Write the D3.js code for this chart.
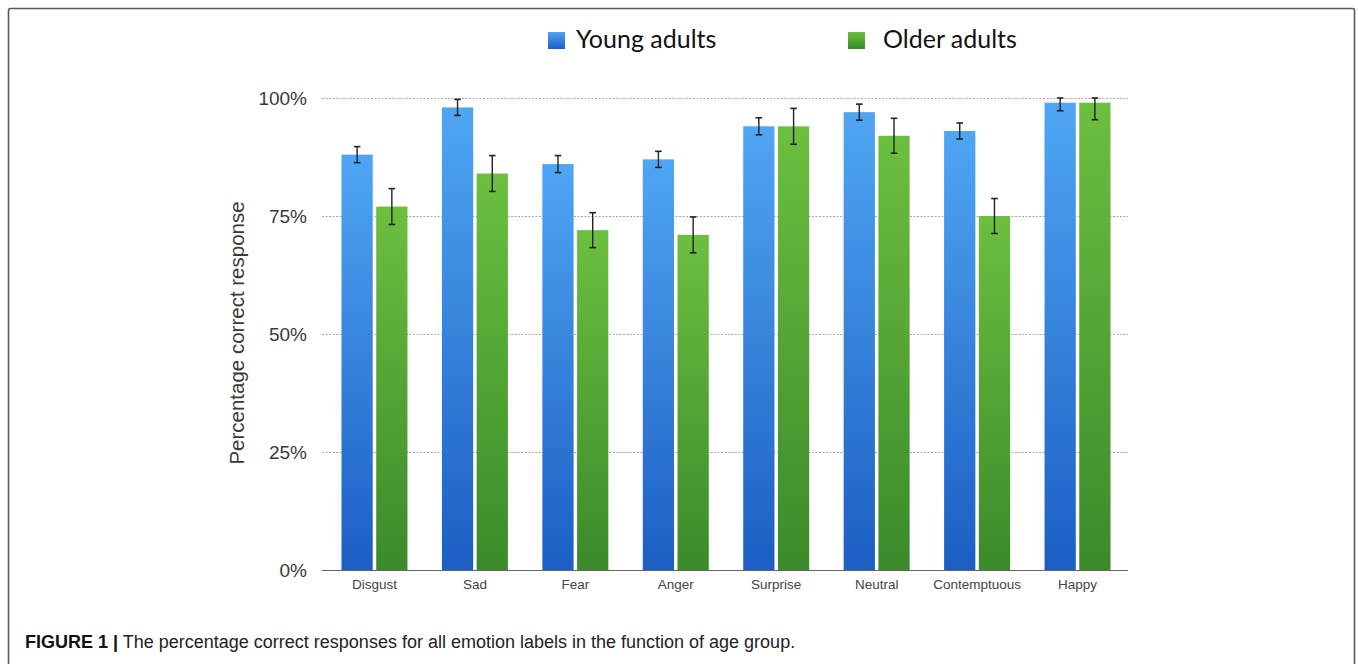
<!DOCTYPE html>
<html>
<head>
<meta charset="utf-8">
<script src="https://cdn.jsdelivr.net/npm/d3@7"></script>
<style>
  html, body { margin: 0; padding: 0; background: #fff; }
  svg { display: block; }
</style>
</head>
<body>
<svg id="chart" width="1358" height="664"></svg>
<script>
const categories = ["Disgust", "Sad", "Fear", "Anger", "Surprise", "Neutral", "Contemptuous", "Happy"];
const seriesNames = ["Young adults", "Older adults"];
const youngValues = [88, 98, 86, 87, 94, 97, 93, 99];
const olderValues = [77, 84, 72, 71, 94, 92, 75, 99];
const youngErrors = [1.7, 1.7, 1.8, 1.7, 1.8, 1.7, 1.7, 1.7];
const olderErrors = [3.8, 3.8, 3.7, 3.8, 3.8, 3.7, 3.7, 3.6];
const yTicks = [0, 25, 50, 75, 100];
const yTitle = "Percentage correct response";
const captionBold = "FIGURE 1 |";
const captionText = " The percentage correct responses for all emotion labels in the function of age group.";

const svg = d3.select("#chart");

// frame
svg.append("rect")
  .attr("x", 8.5).attr("y", 8.5)
  .attr("width", 1346).attr("height", 720)
  .attr("rx", 2)
  .attr("fill", "none").attr("stroke", "#5a5a5a").attr("stroke-width", 1.6);

// gradients
const defs = svg.append("defs");
function grad(id, top, bottom) {
  const g = defs.append("linearGradient").attr("id", id)
    .attr("x1", 0).attr("y1", 0).attr("x2", 0).attr("y2", 1);
  g.append("stop").attr("offset", "0%").attr("stop-color", top);
  g.append("stop").attr("offset", "100%").attr("stop-color", bottom);
}
grad("gBlue", "#4fa6f3", "#1c5ec3");
grad("gGreen", "#6cbf3f", "#3b8a2b");
const fills = ["url(#gBlue)", "url(#gGreen)"];

const plotLeft = 322, plotRight = 1130, yTop = 98, yBottom = 570;

const x0 = d3.scaleBand().domain(categories).range([plotLeft, plotRight])
  .paddingInner(0.343).paddingOuter(0.194);
const x1 = d3.scaleBand().domain([0, 1]).range([0, x0.bandwidth()]).paddingInner(0.1);
const y = d3.scaleLinear().domain([0, 100]).range([yBottom, yTop]);

// gridlines
svg.append("g").selectAll("line")
  .data(yTicks.filter(t => t > 0))
  .join("line")
  .attr("x1", plotLeft).attr("x2", plotRight - 2)
  .attr("y1", d => y(d) + 0.5).attr("y2", d => y(d) + 0.5)
  .attr("stroke", "#a8a8a8").attr("stroke-width", 1)
  .attr("stroke-dasharray", "2,1.5");

// y axis labels via d3 axis
const yAxis = d3.axisLeft(y).tickValues(yTicks).tickFormat(d => d + "%").tickSize(0).tickPadding(0);
const yg = svg.append("g").attr("transform", `translate(${307},0)`).call(yAxis);
yg.select(".domain").remove();
yg.selectAll("text")
  .attr("font-family", "Liberation Sans, Arial, sans-serif")
  .attr("font-size", 19).attr("fill", "#3a3a3a")
  .attr("dy", "0.36em");

// y title
svg.append("text")
  .attr("transform", `translate(244,333) rotate(-90)`)
  .attr("text-anchor", "middle")
  .attr("font-family", "Liberation Sans, Arial, sans-serif")
  .attr("font-size", 20.5).attr("fill", "#3a3a3a")
  .text(yTitle);

// bars
const rows = categories.map((c, i) => ({
  cat: c,
  vals: [
    { s: 0, v: youngValues[i], e: youngErrors[i] },
    { s: 1, v: olderValues[i], e: olderErrors[i] }
  ]
}));

const groups = svg.append("g").selectAll("g")
  .data(rows).join("g")
  .attr("transform", d => `translate(${x0(d.cat)},0)`);

groups.selectAll("rect")
  .data(d => d.vals).join("rect")
  .attr("x", d => x1(d.s))
  .attr("width", x1.bandwidth())
  .attr("y", d => y(d.v))
  .attr("height", d => y(0) - y(d.v))
  .attr("fill", d => fills[d.s]);

// error bars
const eb = groups.selectAll("g.err")
  .data(d => d.vals).join("g").attr("class", "err");
const capW = 3.3;
eb.append("line")
  .attr("x1", d => x1(d.s) + x1.bandwidth() / 2)
  .attr("x2", d => x1(d.s) + x1.bandwidth() / 2)
  .attr("y1", d => y(Math.min(100, d.v + d.e)))
  .attr("y2", d => y(d.v - d.e))
  .attr("stroke", "#222").attr("stroke-width", 1.4);
eb.append("line")
  .attr("x1", d => x1(d.s) + x1.bandwidth() / 2 - capW)
  .attr("x2", d => x1(d.s) + x1.bandwidth() / 2 + capW)
  .attr("y1", d => y(Math.min(100, d.v + d.e)))
  .attr("y2", d => y(Math.min(100, d.v + d.e)))
  .attr("stroke", "#222").attr("stroke-width", 1.6);
eb.append("line")
  .attr("x1", d => x1(d.s) + x1.bandwidth() / 2 - capW)
  .attr("x2", d => x1(d.s) + x1.bandwidth() / 2 + capW)
  .attr("y1", d => y(d.v - d.e))
  .attr("y2", d => y(d.v - d.e))
  .attr("stroke", "#222").attr("stroke-width", 1.6);

// x axis
const xAxis = d3.axisBottom(x0).tickSize(0).tickPadding(0);
const xg = svg.append("g").attr("transform", `translate(0,${yBottom})`).call(xAxis);
xg.select(".domain").remove();
svg.append("line")
  .attr("x1", plotLeft).attr("x2", plotRight - 2)
  .attr("y1", yBottom + 0.5).attr("y2", yBottom + 0.5)
  .attr("stroke", "#666").attr("stroke-width", 1.2);
xg.selectAll("text")
  .attr("font-family", "Liberation Sans, Arial, sans-serif")
  .attr("font-size", 13.5).attr("fill", "#444")
  .attr("y", 19).attr("dy", 0);

// legend
const legendItems = [
  { name: seriesNames[0], rx: 548, tx: 576 },
  { name: seriesNames[1], rx: 848, tx: 883 }
];
const lg = svg.append("g").selectAll("g").data(legendItems).join("g");
lg.append("rect")
  .attr("x", d => d.rx).attr("y", 32)
  .attr("width", 17).attr("height", 17)
  .attr("fill", (d, i) => fills[i]);
lg.append("text")
  .attr("x", d => d.tx).attr("y", 48)
  .attr("font-family", "Lato, sans-serif")
  .attr("font-size", 25).attr("fill", "#111")
  .text(d => d.name);

// caption
const cap = svg.append("text")
  .attr("x", 25).attr("y", 648)
  .attr("font-family", "Liberation Sans, Arial, sans-serif")
  .attr("font-size", 18).attr("fill", "#222");
cap.append("tspan").attr("font-weight", "bold").attr("fill", "#111").text(captionBold);
cap.append("tspan").text(captionText);
</script>
</body>
</html>
